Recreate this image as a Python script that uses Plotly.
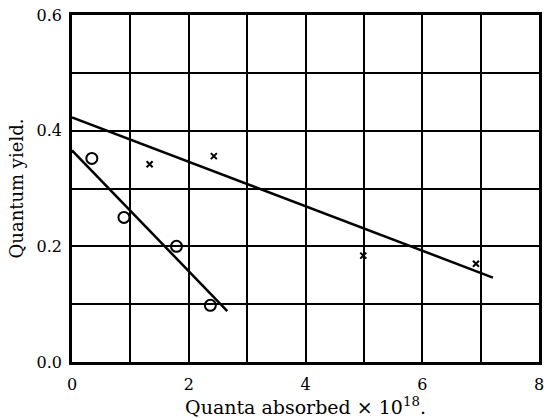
import plotly.graph_objects as go

# Data
circle_x = [0.34, 0.89, 1.79, 2.37]
circle_y = [0.352, 0.25, 0.20, 0.098]
cross_x = [1.33, 2.43, 4.99, 6.92]
cross_y = [0.342, 0.356, 0.184, 0.170]
fit_circle_x = [0.0, 2.66]
fit_circle_y = [0.366, 0.088]
fit_cross_x = [0.0, 7.21]
fit_cross_y = [0.423, 0.146]

x_label_ticks = [0, 2, 4, 6, 8]
y_label_ticks = [0.0, 0.2, 0.4, 0.6]

font = "DejaVu Serif"

fig = go.Figure()
fig.add_trace(go.Scatter(x=fit_circle_x, y=fit_circle_y, mode="lines",
                         line=dict(color="black", width=2.5), showlegend=False))
fig.add_trace(go.Scatter(x=fit_cross_x, y=fit_cross_y, mode="lines",
                         line=dict(color="black", width=2.5), showlegend=False))
fig.add_trace(go.Scatter(x=circle_x, y=circle_y, mode="markers",
                         marker=dict(symbol="circle-open", size=11, color="black",
                                     line=dict(width=2, color="black")),
                         showlegend=False))
fig.add_trace(go.Scatter(x=cross_x, y=cross_y, mode="markers",
                         marker=dict(symbol="x-thin", size=6, color="black",
                                     line=dict(width=2, color="black")),
                         showlegend=False))

fig.update_layout(
    width=544, height=418,
    margin=dict(l=72, r=5, t=15, b=56),
    paper_bgcolor="white", plot_bgcolor="white",
    font=dict(family=font, color="black", size=16),
    xaxis=dict(range=[0, 8], tickvals=x_label_ticks,
               showgrid=True, gridcolor="black", gridwidth=1.5,
               minor=dict(dtick=1, tick0=0, showgrid=True, gridcolor="black",
                          gridwidth=1.5, ticks=""),
               showline=True, linecolor="black", linewidth=2.5, mirror=True,
               zeroline=False, ticks="", ticklen=0, automargin=False,
               ticklabelstandoff=6, ticklabeloverflow="allow",
               title=dict(text="Quanta absorbed × 10<sup>18</sup>.", standoff=7,
                          font=dict(size=19))),
    yaxis=dict(range=[0, 0.6], tickvals=y_label_ticks, tickformat=".1f",
               showgrid=True, gridcolor="black", gridwidth=1.5,
               minor=dict(dtick=0.1, tick0=0, showgrid=True, gridcolor="black",
                          gridwidth=1.5, ticks=""),
               showline=True, linecolor="black", linewidth=2.5, mirror=True,
               zeroline=False, ticks="", ticklen=0, automargin=False,
               ticklabelstandoff=4, ticklabeloverflow="allow",
               title=dict(text="Quantum yield.", standoff=9, font=dict(size=18))),
)

fig.write_html("out.html", config={"displayModeBar": False},
               post_script="document.body.style.margin='0';document.body.style.overflow='hidden';")
